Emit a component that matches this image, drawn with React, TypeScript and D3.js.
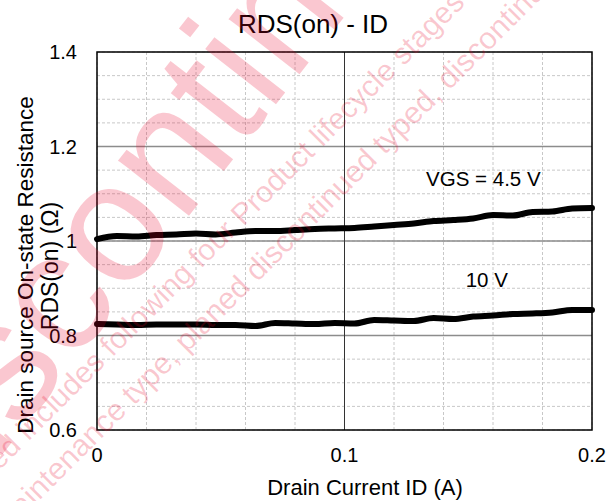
import React from "react";
import * as d3 from "d3";

const idValues = [0, 0.008, 0.016, 0.024, 0.032, 0.04, 0.048, 0.056, 0.064, 0.072, 0.08, 0.088, 0.096, 0.104, 0.112, 0.12, 0.128, 0.136, 0.144, 0.152, 0.16, 0.168, 0.176, 0.184, 0.192, 0.2];
const rds45 = [1.004, 1.0106, 1.0095, 1.0127, 1.0138, 1.0159, 1.0138, 1.018, 1.0212, 1.0212, 1.0233, 1.0254, 1.0265, 1.0275, 1.0307, 1.0339, 1.037, 1.0423, 1.0444, 1.0476, 1.055, 1.054, 1.0614, 1.0624, 1.0688, 1.0698];
const rds10 = [0.8243, 0.8233, 0.8222, 0.8233, 0.8233, 0.8233, 0.8222, 0.8222, 0.8201, 0.8265, 0.8254, 0.8243, 0.8265, 0.8254, 0.8328, 0.8317, 0.8307, 0.837, 0.8349, 0.8402, 0.8423, 0.8455, 0.8466, 0.8487, 0.854, 0.854];
const xTicks = [0, 0.1, 0.2];
const xTickLabels = ["0", "0.1", "0.2"];
const yTicks = [0.6, 0.8, 1.0, 1.2, 1.4];
const yTickLabels = ["0.6", "0.8", "1", "1.2", "1.4"];
const seriesLabels = ["VGS = 4.5 V", "10 V"];
const labelAt = [[0.1561, 1.1164], [0.1575, 0.9033]];
const title = "RDS(on) - ID";
const xTitle = "Drain Current ID (A)";
const yTitle1 = "Drain source On-state Resistance";
const yTitle2 = "RDS(on) (Ω)";
const wmBig = "Discontinued";
const wmLine1 = "Discontinued includes following four Product lifecycle stages";
const wmLine2 = "maintenance type, planed discontinued typed, discontinued typed";

const W = 611, H = 501;
const L = 97, R = 592, T = 52, B = 430;
const FONT = "'Liberation Sans', Arial, sans-serif";

export default function App() {
  const x = d3.scaleLinear().domain([0, 0.2]).range([L, R]);
  const y = d3.scaleLinear().domain([0.6, 1.4]).range([B, T]);
  const xMinor = d3.range(0, 0.2001, 0.02);
  const yMinor = d3.range(0.6, 1.4001, 0.05);
  const line = d3.line<number>()
    .x((_, i) => x(idValues[i]))
    .y((d) => y(d))
    .curve(d3.curveMonotoneX);
  const wm = "rgba(230,0,40,0.22)";
  return (
    <svg width={W} height={H} style={{ position: "absolute", left: 0, top: 0, background: "#fff" }} fontFamily={FONT}>
      <rect width={W} height={H} fill="#fff" />
      {xMinor.map((v, i) => (
        <line key={"xm" + i} x1={x(v)} x2={x(v)} y1={T} y2={B} stroke="#c8c8c8" strokeWidth={1} strokeDasharray="3,2" />
      ))}
      {yMinor.map((v, i) => (
        <line key={"ym" + i} x1={L} x2={R} y1={y(v)} y2={y(v)} stroke="#c8c8c8" strokeWidth={1} strokeDasharray="3,2" />
      ))}
      {[0.8, 1.0, 1.2].map((v) => (
        <line key={"yM" + v} x1={L} x2={R} y1={y(v)} y2={y(v)} stroke="#8c8c8c" strokeWidth={1.5} />
      ))}
      <line x1={x(0.1)} x2={x(0.1)} y1={T} y2={B} stroke="#333" strokeWidth={1} />
      <rect x={L} y={T} width={R - L} height={B - T} fill="none" stroke="#000" strokeWidth={1.5} />
      <path d={line(rds45) || ""} fill="none" stroke="#000" strokeWidth={6} strokeLinecap="round" strokeLinejoin="round" />
      <path d={line(rds10) || ""} fill="none" stroke="#000" strokeWidth={6} strokeLinecap="round" strokeLinejoin="round" />
      {seriesLabels.map((s, i) => (
        <text key={s} x={x(labelAt[i][0])} y={y(labelAt[i][1])} fontSize={20.5} textAnchor="middle" fill="#000">{s}</text>
      ))}
      {xTicks.map((v, i) => (
        <text key={"xt" + i} x={x(v)} y={462} fontSize={20} textAnchor="middle" fill="#000">{xTickLabels[i]}</text>
      ))}
      {yTicks.map((v, i) => (
        <text key={"yt" + i} x={77} y={y(v) + 7.2} fontSize={20} textAnchor="end" fill="#000">{yTickLabels[i]}</text>
      ))}
      <text x={313} y={33} fontSize={26} textAnchor="middle" fill="#000">{title}</text>
      <text x={365} y={495} fontSize={22} textAnchor="middle" fill="#000">{xTitle}</text>
      <text transform="translate(33,265) rotate(-90)" fontSize={22.5} textAnchor="middle" fill="#000">{yTitle1}</text>
      <text transform="translate(58,266) rotate(-90)" fontSize={23} textAnchor="middle" fill="#000">{yTitle2}</text>
      <g pointerEvents="none">
        <text transform="translate(-80,560) rotate(-52)" fontSize={170} fill={wm}>{wmBig}</text>
        <text transform="translate(-100,570) rotate(-45)" fontSize={30} fill={wm}>{wmLine1}</text>
        <text transform="translate(4.5,535.5) rotate(-45)" fontSize={30.5} fill={wm}>{wmLine2}</text>
      </g>
    </svg>
  );
}
